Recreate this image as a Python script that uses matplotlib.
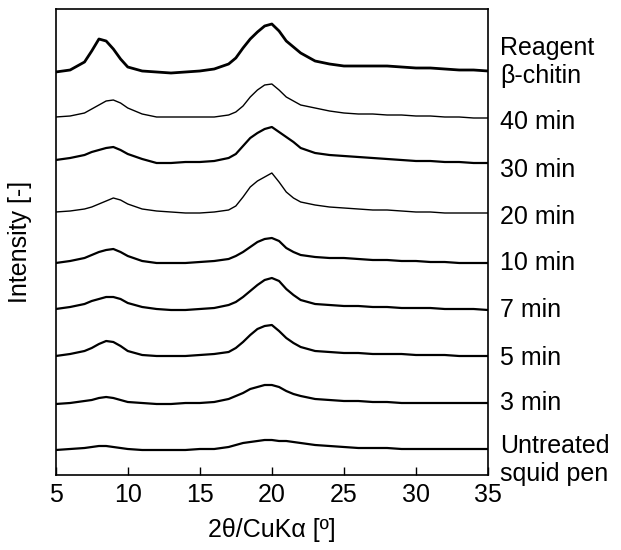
import matplotlib
matplotlib.use("Agg")
import matplotlib.pyplot as plt
import numpy as np

plt.rcParams['font.family'] = ['Liberation Sans', 'DejaVu Sans']

# 2theta positions where the patterns were read
two_theta = [5, 6, 7, 7.5, 8, 8.5, 9, 9.5, 10, 11, 12, 13, 14, 15, 16, 17, 17.5,
             18, 18.5, 19, 19.5, 20, 20.5, 21, 21.5, 22, 23, 24, 25, 26, 27, 28,
             29, 30, 31, 32, 33, 34, 35]

# intensities (arbitrary units)
reagent = [0, 2, 10, 21, 33, 31, 23, 13, 5, 1, 0, -1, 0, 1, 3, 8, 14,
           24, 33, 40, 46, 48, 41, 31, 25, 19, 11, 8, 6, 6, 6, 6,
           5, 4, 4, 3, 2, 2, 1]
min40 = [0, 1, 4, 8, 12, 16, 17, 14, 9, 3, 0, 0, 0, 0, 0, 2, 5,
         11, 20, 27, 32, 33, 27, 20, 16, 12, 9, 6, 4, 3, 3, 2,
         2, 1, 1, 0, 0, -1, -1]
min30 = [0, 2, 5, 8, 10, 12, 13, 10, 6, 1, -3, -3, -2, -2, -1, 2, 6,
         14, 22, 27, 31, 33, 28, 23, 18, 12, 7, 5, 4, 3, 2, 1,
         0, -1, -1, -2, -2, -3, -3]
min20 = [0, 1, 3, 5, 8, 11, 14, 12, 8, 3, 1, 0, -1, -1, 0, 2, 6,
         15, 25, 31, 35, 39, 30, 20, 14, 10, 7, 5, 4, 3, 2, 2,
         1, 0, 0, -1, -1, -1, -1]
min10 = [0, 2, 5, 8, 11, 13, 14, 11, 7, 2, 0, 0, 0, 1, 2, 4, 7,
         11, 16, 21, 24, 25, 22, 15, 11, 8, 6, 5, 5, 4, 3, 3,
         2, 2, 1, 1, 0, 0, 0]
min7 = [0, 2, 5, 8, 10, 12, 12, 10, 6, 2, 0, -1, -1, 0, 1, 4, 7,
        12, 18, 24, 29, 31, 28, 20, 14, 9, 5, 4, 3, 3, 2, 2,
        1, 1, 1, 0, 0, 0, -1]
min5 = [0, 2, 5, 8, 12, 15, 14, 10, 5, 1, 0, 0, 0, 1, 2, 4, 8,
        14, 21, 27, 30, 31, 25, 18, 13, 9, 5, 4, 3, 3, 2, 2,
        2, 1, 1, 1, 0, 0, 0]
min3 = [0, 1, 3, 4, 6, 7, 6, 4, 2, 1, 0, 0, 1, 1, 2, 5, 8,
        11, 15, 17, 19, 19, 17, 13, 10, 8, 5, 4, 3, 3, 2, 2,
        1, 1, 1, 1, 1, 1, 1]
untreated = [0, 1, 2, 3, 4, 4, 3, 2, 1, 0, 0, 0, 0, 1, 1, 3, 5,
             7, 8, 9, 10, 10, 9, 9, 8, 7, 5, 4, 3, 2, 2, 2,
             1, 1, 1, 1, 1, 1, 1]

series = [untreated, min3, min5, min7, min10, min20, min30, min40, reagent]
offsets = [25, 71, 119, 166, 212, 263, 315, 358, 403]
widths = [1.6, 1.6, 1.6, 1.6, 1.6, 1.0, 1.6, 1.0, 2.0]

labels = ['Untreated\nsquid pen', '3 min', '5 min', '7 min', '10 min',
          '20 min', '30 min', '40 min', 'Reagent\nβ-chitin']
label_y = [15, 72, 117, 165, 212, 258, 305, 353, 413]

fig = plt.figure(figsize=(6.21, 5.5), dpi=100)
ax = fig.add_axes([55.7/621, 75/550, 432.3/621, 466/550])

for y, off, lw in zip(series, offsets, widths):
    ax.plot(two_theta, np.array(y) + off, color='black', lw=lw)

for lab, ly in zip(labels, label_y):
    ax.text(1.028, ly, lab, transform=ax.get_yaxis_transform(),
            fontsize=18, va='center', ha='left', linespacing=1.25)

ax.set_xlim(5, 35)
ax.set_ylim(0, 466)
ax.set_xticks([5, 10, 15, 20, 25, 30, 35])
ax.set_yticks([])
ax.tick_params(axis='x', direction='in', length=6, width=1, pad=6, labelsize=18)
for s in ax.spines.values():
    s.set_linewidth(1.2)

ax.set_xlabel('2θ/CuKα [º]', fontsize=18)
ax.xaxis.set_label_coords(0.5, -0.092)
ax.set_ylabel('Intensity [-]', fontsize=18)
ax.yaxis.set_label_coords(-0.055, 0.5)

fig.savefig('out.png', dpi=100)
